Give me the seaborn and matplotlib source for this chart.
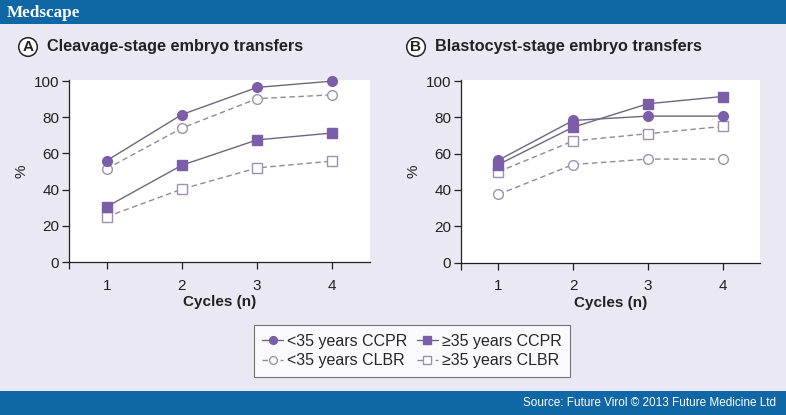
import matplotlib
matplotlib.use("Agg")
import matplotlib.pyplot as plt
import seaborn as sns
import pandas as pd
from matplotlib.patches import Rectangle

sns.set_theme(style="white")
plt.rcParams['font.family'] = ['Liberation Sans', 'DejaVu Sans']

# ---------------- data ----------------
cycles = [1, 2, 3, 4]
x_tick_labels = ["1", "2", "3", "4"]
y_ticks = [0, 20, 40, 60, 80, 100]

series_names = ["<35 years CCPR", "\u226535 years CCPR", "<35 years CLBR", "\u226535 years CLBR"]

# Panel A: cleavage-stage
a_lt35_ccpr = [56, 81.5, 96.5, 100]
a_ge35_ccpr = [30.5, 53.5, 67.5, 71.3]
a_lt35_clbr = [51.5, 74, 90.3, 92.4]
a_ge35_clbr = [25, 40.3, 52, 55.8]

# Panel B: blastocyst-stage
b_lt35_ccpr = [56.4, 78.3, 80.7, 80.7]
b_ge35_ccpr = [54, 74.6, 87.5, 91.5]
b_lt35_clbr = [37.5, 54, 57, 57]
b_ge35_clbr = [50, 67, 71, 75]

panel_titles = ["Cleavage-stage embryo transfers", "Blastocyst-stage embryo transfers"]
panel_letters = ["A", "B"]
x_label = "Cycles (n)"
y_label = "%"
source_text = "Source: Future Virol \u00a9 2013 Future Medicine Ltd"
brand_text = "Medscape"

# ---------------- styles ----------------
BG = "#eae8f3"
BLUE = "#0f67a6"
PURPLE = "#7b5ea8"
SOLID_LINE = "#6e6680"
DASH_LINE = "#8e8a9c"
OPEN_EDGE = "#9b92b0"

styles = {
    "<35 years CCPR": dict(marker="o", markerfacecolor=PURPLE, markeredgecolor=PURPLE, color=SOLID_LINE,
                           linestyle="-", markersize=7),
    "\u226535 years CCPR": dict(marker="s", markerfacecolor=PURPLE, markeredgecolor=PURPLE, color=SOLID_LINE,
                                linestyle="-", markersize=7),
    "<35 years CLBR": dict(marker="o", markerfacecolor="white", markeredgecolor=OPEN_EDGE, color=DASH_LINE,
                           linestyle=(0, (4, 2.5)), markersize=7),
    "\u226535 years CLBR": dict(marker="s", markerfacecolor="white", markeredgecolor=OPEN_EDGE, color=DASH_LINE,
                                linestyle=(0, (4, 2.5)), markersize=7),
}

panels = [
    {"<35 years CCPR": a_lt35_ccpr, "\u226535 years CCPR": a_ge35_ccpr,
     "<35 years CLBR": a_lt35_clbr, "\u226535 years CLBR": a_ge35_clbr},
    {"<35 years CCPR": b_lt35_ccpr, "\u226535 years CCPR": b_ge35_ccpr,
     "<35 years CLBR": b_lt35_clbr, "\u226535 years CLBR": b_ge35_clbr},
]
draw_order = ["\u226535 years CLBR", "<35 years CLBR", "\u226535 years CCPR", "<35 years CCPR"]

fig = plt.figure(figsize=(7.86, 4.15), dpi=100)
fig.patch.set_facecolor(BG)

# header & footer bars
fig.add_artist(Rectangle((0, 1 - 24 / 415), 1, 24 / 415, transform=fig.transFigure,
                         facecolor=BLUE, edgecolor="none", zorder=0))
fig.add_artist(Rectangle((0, 0), 1, 24 / 415, transform=fig.transFigure,
                         facecolor=BLUE, edgecolor="none", zorder=0))
fig.text(7 / 786, 1 - 13 / 415, brand_text, color="white", fontsize=12.3,
         family=["Liberation Serif", "DejaVu Serif"], fontweight="bold", va="center", ha="left")
fig.text(776 / 786, 12 / 415, source_text, color="white", fontsize=8.5,
         va="center", ha="right")

axes_rects = [
    [69 / 786, 1 - 262 / 415, 301 / 786, 182 / 415],
    [461 / 786, 1 - 262.5 / 415, 299 / 786, 182.5 / 415],
]
title_pos = [(28, 47), (416, 47)]

handles = {}
for i, rect in enumerate(axes_rects):
    ax = fig.add_axes(rect)
    ax.set_facecolor("white")
    data = panels[i]
    for name in draw_order:
        df = pd.DataFrame({"Cycles": cycles, "Value": data[name]})
        st = styles[name]
        sns.lineplot(data=df, x="Cycles", y="Value", ax=ax, linewidth=1.0,
                     markeredgewidth=1.0, clip_on=False, zorder=3, **st)
        handles[name] = ax.get_lines()[-1]
    ax.set_xlim(0.5, 4.5)
    ax.set_ylim(0, 100.6)
    ax.set_xticks([0.5] + cycles)
    ax.set_xticklabels([""] + x_tick_labels)
    ax.set_yticks(y_ticks)
    ax.set_yticklabels([str(v) for v in y_ticks])
    for s in ["top", "right"]:
        ax.spines[s].set_visible(False)
    for s in ["left", "bottom"]:
        ax.spines[s].set_color("#222222")
        ax.spines[s].set_linewidth(0.9)
    ax.tick_params(axis="both", direction="out", length=5, width=0.9, color="#222222",
                   labelsize=11, labelcolor="#222222", pad=2, bottom=True, left=True)
    ax.tick_params(axis="x", pad=7)
    ax.set_xlabel(x_label, fontsize=11, fontweight="bold", color="#222222", labelpad=2)
    ax.set_ylabel(y_label, fontsize=11, color="#222222", labelpad=4)
    # panel titles
    tx, ty = title_pos[i]
    fig.text(tx / 786, 1 - ty / 415, panel_letters[i], fontsize=11, fontweight="bold",
             ha="center", va="center", color="#222222",
             bbox=dict(boxstyle="circle,pad=0.15", facecolor="white", edgecolor="#222222", linewidth=1.1))
    fig.text((tx + 19) / 786, 1 - ty / 415, panel_titles[i], fontsize=11.7, fontweight="bold",
             ha="left", va="center", color="#222222")

leg_order = ["<35 years CCPR", "<35 years CLBR", "\u226535 years CCPR", "\u226535 years CLBR"]
leg = fig.legend([handles[n] for n in leg_order], leg_order, ncol=2,
                 loc="center", bbox_to_anchor=(412 / 786, 1 - 351 / 415),
                 frameon=True, fancybox=False, fontsize=11.5, handlelength=1.3,
                 handletextpad=0.25, columnspacing=0.6, labelspacing=0.3,
                 borderpad=0.55, borderaxespad=0, markerscale=0.8)
leg.get_frame().set_edgecolor("#555555")
leg.get_frame().set_linewidth(0.8)
leg.get_frame().set_facecolor("white")

fig.savefig("out.png", dpi=100, facecolor=fig.get_facecolor())
